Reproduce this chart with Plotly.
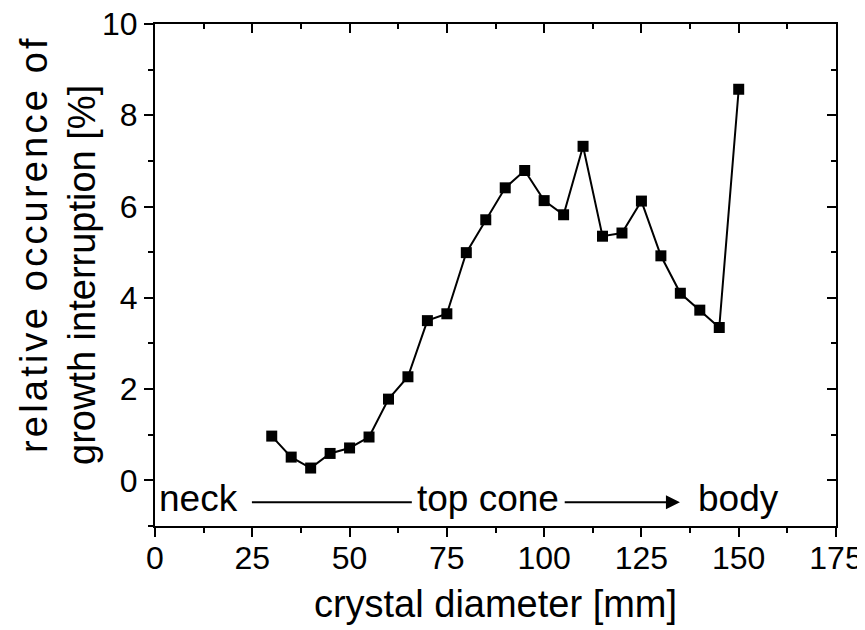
import plotly.graph_objects as go

# data
diameter_mm = [30, 35, 40, 45, 50, 55, 60, 65, 70, 75, 80, 85, 90, 95, 100,
               105, 110, 115, 120, 125, 130, 135, 140, 145, 150]
occurrence_pct = [0.97, 0.51, 0.27, 0.59, 0.71, 0.95, 1.78, 2.27, 3.50, 3.65,
                  4.99, 5.71, 6.41, 6.79, 6.13, 5.82, 7.32, 5.35, 5.42, 6.12,
                  4.92, 4.10, 3.73, 3.35, 8.57]
x_ticks = [0, 25, 50, 75, 100, 125, 150, 175]
y_ticks = [0, 2, 4, 6, 8, 10]
y_title_lines = ["relative occurence of", "growth interruption [%]"]

FONT = "Arial, Liberation Sans, sans-serif"
TICK_FONT = dict(family=FONT, size=32, color="black")
TITLE_FONT = dict(family=FONT, size=38, color="black")

fig = go.Figure()
fig.add_trace(go.Scatter(
    x=diameter_mm, y=occurrence_pct, mode="lines+markers",
    line=dict(color="black", width=2),
    marker=dict(symbol="square", size=11, color="black"),
    showlegend=False, cliponaxis=False,
))
# invisible trace for mirrored axes
fig.add_trace(go.Scatter(x=[None], y=[None], xaxis="x2", yaxis="y2", showlegend=False))

x_range = [0, 175]
y_range = [-1, 10]

common = dict(showgrid=False, zeroline=False, showline=True, linecolor="black",
              linewidth=2, tickcolor="black", tickwidth=2, ticklen=9, automargin=False)

fig.update_layout(
    width=865, height=630,
    margin=dict(l=147, r=37, t=16, b=112),
    paper_bgcolor="white", plot_bgcolor="white",
    xaxis=dict(range=x_range, tickvals=x_ticks, ticks="outside", mirror=True,
               tickfont=TICK_FONT, ticklabeloverflow="allow", ticklabelstandoff=-6,
               minor=dict(dtick=12.5, ticklen=5, tickwidth=2, tickcolor="black", ticks="outside"),
               title=dict(text="crystal diameter [mm]", font=TITLE_FONT),
               **common),
    yaxis=dict(range=y_range, tickvals=y_ticks, ticks="outside", mirror=True,
               tickfont=TICK_FONT, ticklabeloverflow="allow",
               minor=dict(tickvals=[-1, 1, 3, 5, 7, 9], ticklen=5, tickwidth=2, tickcolor="black", ticks="outside"),
               **common),
    xaxis2=dict(range=x_range, overlaying="x", side="top", tickvals=x_ticks,
                ticks="inside", showticklabels=False, anchor="y",
                minor=dict(dtick=12.5, ticklen=5, tickwidth=2, tickcolor="black", ticks="inside"),
                **common),
    yaxis2=dict(range=y_range, overlaying="y", side="right", tickvals=y_ticks,
                ticks="inside", showticklabels=False, anchor="x",
                minor=dict(tickvals=[-1, 1, 3, 5, 7, 9], ticklen=5, tickwidth=2, tickcolor="black", ticks="inside"),
                **common),
)

# y-axis title, two rotated lines
fig.add_annotation(x=0, y=0.5, xref="paper", yref="paper", xanchor="center", yanchor="middle",
                   xshift=-121, yshift=31, textangle=-90, showarrow=False,
                   text='<span style="letter-spacing:3.2px">' + y_title_lines[0] + '</span>',
                   font=TITLE_FONT)
fig.add_annotation(x=0, y=0.5, xref="paper", yref="paper", xanchor="center", yanchor="middle",
                   xshift=-73, yshift=0, textangle=-90, showarrow=False,
                   text=y_title_lines[1], font=TITLE_FONT)

# stage annotations
label_y = -0.4
line_y = -0.48
ANN_FONT = dict(family=FONT, size=37, color="black")
fig.add_annotation(x=0.6, y=label_y, text="neck", showarrow=False, xanchor="left",
                   yanchor="middle", font=ANN_FONT)
fig.add_annotation(x=66.8, y=label_y, text="top cone", showarrow=False, xanchor="left",
                   yanchor="middle", font=ANN_FONT)
fig.add_annotation(x=139.0, y=label_y, text="body", showarrow=False, xanchor="left",
                   yanchor="middle", font=ANN_FONT)
fig.add_shape(type="line", x0=24.9, x1=66.0, y0=line_y, y1=line_y,
              line=dict(color="black", width=2))
fig.add_annotation(x=134.9, y=line_y, ax=104.9, ay=line_y, axref="x", ayref="y",
                   xref="x", yref="y", text="", showarrow=True,
                   arrowhead=2, arrowsize=1.4, arrowwidth=2, arrowcolor="black")

fig.write_html("out.html")
